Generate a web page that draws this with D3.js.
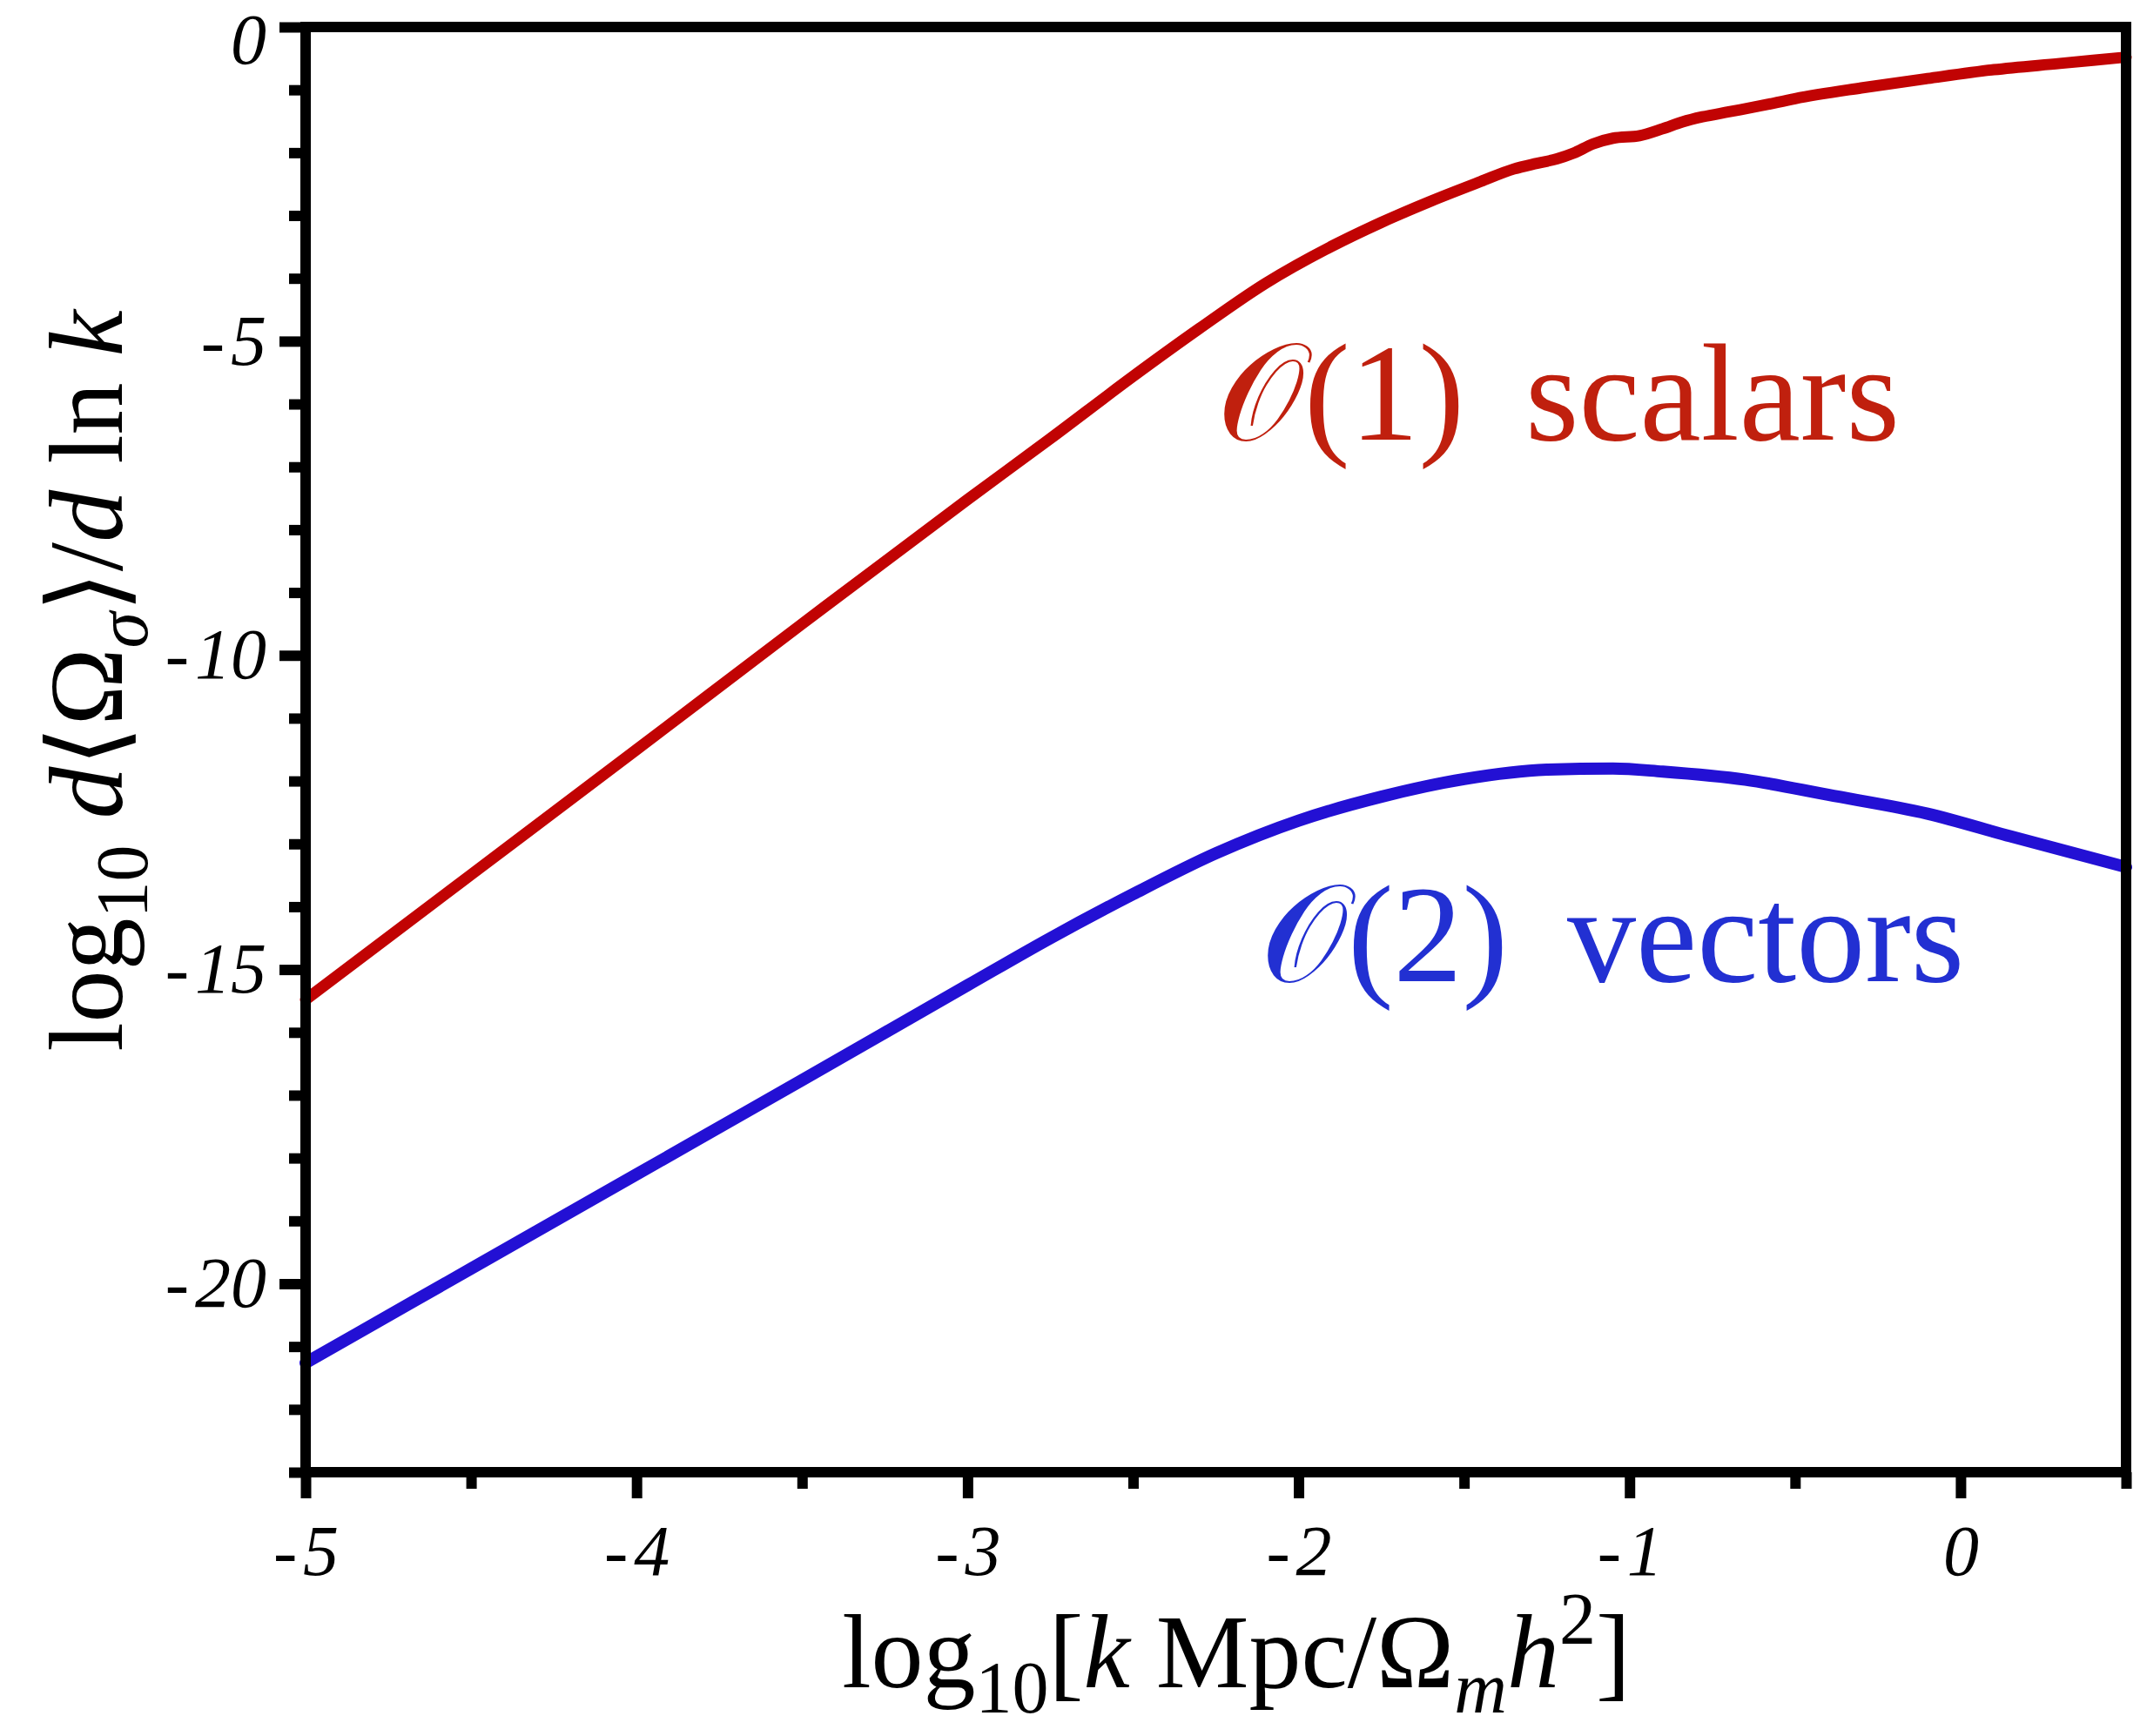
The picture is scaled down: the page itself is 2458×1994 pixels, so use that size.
<!DOCTYPE html>
<html>
<head>
<meta charset="utf-8">
<script src="https://cdn.jsdelivr.net/npm/d3@7"></script>
<style>
  body { margin: 0; background: #fff; }
  text { white-space: pre; }
</style>
</head>
<body>
<svg id="chart"></svg>
<script>
// log10 k values and the two curves
const scalarK = [-5, -4.5, -4, -3.5, -3, -2.75, -2.5, -2.3, -2.1, -1.9, -1.75, -1.6, -1.45, -1.35, -1.28,
  -1.22, -1.17, -1.11, -1.05, -0.97, -0.9, -0.84, -0.78, -0.7, -0.6, -0.5, -0.3, -0.1, 0.1, 0.3, 0.5];
const scalarVals = [-15.48, -13.49, -11.5, -9.5, -7.52, -6.55, -5.56, -4.8, -4.08, -3.49, -3.11, -2.77, -2.46, -2.26, -2.17,
  -2.1, -2.01, -1.86, -1.77, -1.73, -1.62, -1.51, -1.43, -1.35, -1.25, -1.14, -0.97, -0.82, -0.68, -0.58, -0.48];

const vectorK = [-5, -4.5, -4, -3.5, -3, -2.75, -2.5, -2.25, -2, -1.75, -1.5, -1.25, -1.05, -0.9, -0.65, -0.4, -0.1, 0.15, 0.5];
const vectorVals = [-21.26, -19.76, -18.26, -16.76, -15.25, -14.5, -13.8, -13.15, -12.63, -12.25, -11.97, -11.82, -11.8,
  -11.85, -11.98, -12.22, -12.52, -12.88, -13.37];

const xMajor = [-5, -4, -3, -2, -1, 0];
const xMinor = [-4.5, -3.5, -2.5, -1.5, -0.5, 0.5];
const yMajor = [0, -5, -10, -15, -20];
const yMinor = [-1, -2, -3, -4, -6, -7, -8, -9, -11, -12, -13, -14, -16, -17, -18, -19, -21, -22, -23];

const W = 2458, H = 1994;
const margin = { top: 31, left: 351 };
const innerW = 2442 - 351, innerH = 1691 - 31;

const svg = d3.select("#chart").attr("width", W).attr("height", H);
const g = svg.append("g").attr("transform", `translate(${margin.left},${margin.top})`);

const x = d3.scaleLinear().domain([-5, 0.5]).range([0, innerW]);
const y = d3.scaleLinear().domain([-23, 0]).range([innerH, 0]);

const fmt = d => (d < 0 ? "-\u200A" + Math.abs(d) : "" + d);
const tickFont = "'Liberation Serif', serif";

// curves
const line = d3.line().x(d => x(d[0])).y(d => y(d[1])).curve(d3.curveMonotoneX);

g.append("path")
  .datum(d3.zip(scalarK, scalarVals))
  .attr("fill", "none")
  .attr("stroke", "#c10303")
  .attr("stroke-width", 13)
  .attr("stroke-linecap", "round")
  .attr("d", line);

g.append("path")
  .datum(d3.zip(vectorK, vectorVals))
  .attr("fill", "none")
  .attr("stroke", "#2310d4")
  .attr("stroke-width", 14)
  .attr("stroke-linecap", "round")
  .attr("d", line);

// axes
function styleAxis(sel) {
  sel.select(".domain").remove();
  sel.selectAll(".tick line").attr("stroke", "#000").attr("stroke-width", 12);
  sel.selectAll(".tick text")
    .attr("font-family", tickFont)
    .attr("font-style", "italic")
    .attr("font-size", 82)
    .attr("fill", "#000");
}

g.append("g")
  .attr("transform", `translate(0,${innerH})`)
  .call(d3.axisBottom(x).tickValues(xMinor).tickSize(19).tickFormat(""))
  .call(styleAxis);

g.append("g")
  .attr("transform", `translate(0,${innerH})`)
  .call(d3.axisBottom(x).tickValues(xMajor).tickSize(30).tickPadding(30).tickFormat(fmt))
  .call(styleAxis);

g.append("g")
  .call(d3.axisLeft(y).tickValues(yMinor).tickSize(19).tickFormat(""))
  .call(styleAxis);

g.append("g")
  .call(d3.axisLeft(y).tickValues(yMajor).tickSize(30).tickPadding(15).tickFormat(fmt))
  .call(styleAxis)
  .selectAll(".tick text")
  .filter(d => d === 0)
  .attr("dy", "0.5em");

// frame
g.append("rect")
  .attr("x", 0).attr("y", 0)
  .attr("width", innerW).attr("height", innerH)
  .attr("fill", "none")
  .attr("stroke", "#000")
  .attr("stroke-width", 12);

// text with sub/superscripts
function richText(sel, parts, size) {
  let shift = 0;
  parts.forEach(p => {
    const target = p.sub ? 0.24 * size : p.sup ? -0.42 * size : 0;
    const ts = sel.append("tspan").attr("dy", target - shift).text(p.t);
    if (p.i) ts.attr("font-style", "italic");
    if (p.sub || p.sup) ts.attr("font-size", size * 0.7);
    if (p.x !== undefined) ts.attr("x", p.x);
    shift = target;
  });
}

const titleFont = "'Liberation Serif', 'DejaVu Serif', serif";
const titleSize = 120;

const xTitle = svg.append("text")
  .attr("x", 1420).attr("y", 1938)
  .attr("text-anchor", "middle")
  .attr("font-family", titleFont)
  .attr("font-size", titleSize)
  .attr("fill", "#000");
richText(xTitle, [
  { t: "log" }, { t: "10", sub: 1 }, { t: "[" }, { t: "k", i: 1 }, { t: " Mpc/Ω" },
  { t: "m", i: 1, sub: 1 }, { t: "h", i: 1 }, { t: "2", sup: 1 }, { t: "]" }
], titleSize);

const yTitle = svg.append("text")
  .attr("transform", "translate(140,782) rotate(-90)")
  .attr("text-anchor", "middle")
  .attr("font-family", titleFont)
  .attr("font-size", titleSize)
  .attr("fill", "#000");
richText(yTitle, [
  { t: "log" }, { t: "10", sub: 1 }, { t: " " }, { t: "d", i: 1 }, { t: "⟨Ω" },
  { t: "σ", i: 1, sub: 1 }, { t: "⟩/" }, { t: "d", i: 1 }, { t: " ln " }, { t: "k", i: 1 }
], titleSize);

// curve labels
const labelSize = 158;
const scalarLabel = svg.append("text")
  .attr("y", 505)
  .attr("font-family", titleFont)
  .attr("font-size", labelSize)
  .attr("fill", "#c0200e");
richText(scalarLabel, [{ t: "𝒪", x: 1398 }, { t: "(1)" }, { t: "scalars", x: 1752 }], labelSize);

const vectorLabel = svg.append("text")
  .attr("y", 1127)
  .attr("font-family", titleFont)
  .attr("font-size", labelSize)
  .attr("fill", "#2230d2");
richText(vectorLabel, [{ t: "𝒪", x: 1448 }, { t: "(2)" }, { t: "vectors", x: 1800 }], labelSize);
</script>
</body>
</html>
